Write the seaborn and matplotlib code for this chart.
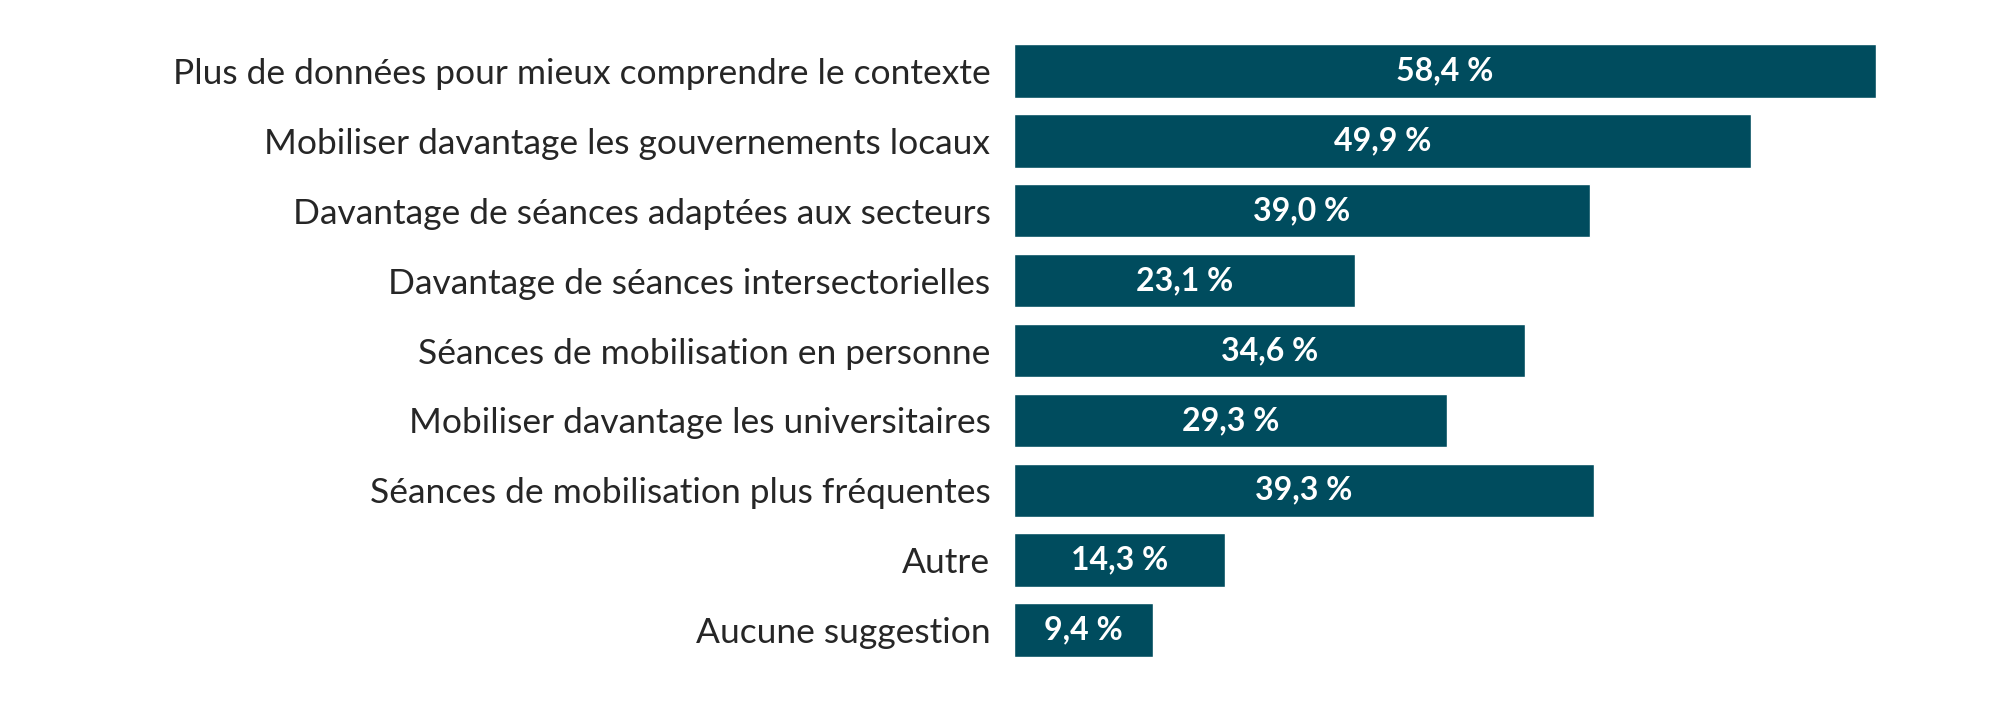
import matplotlib
matplotlib.use("Agg")
import matplotlib.pyplot as plt
import seaborn as sns
import pandas as pd

categories = [
    "Plus de données pour mieux comprendre le contexte",
    "Mobiliser davantage les gouvernements locaux",
    "Davantage de séances adaptées aux secteurs",
    "Davantage de séances intersectorielles",
    "Séances de mobilisation en personne",
    "Mobiliser davantage les universitaires",
    "Séances de mobilisation plus fréquentes",
    "Autre",
    "Aucune suggestion",
]
values = [58.4, 49.9, 39.0, 23.1, 34.6, 29.3, 39.3, 14.3, 9.4]
value_labels = ["58,4 %", "49,9 %", "39,0 %", "23,1 %", "34,6 %", "29,3 %", "39,3 %", "14,3 %", "9,4 %"]

df = pd.DataFrame({"categorie": categories, "valeur": values})

sns.set_style("white")
plt.rcParams["font.family"] = ["Lato", "DejaVu Sans"]

fig = plt.figure(figsize=(20, 7.01), dpi=100)
ax = fig.add_axes([0.507, 0.063, 0.443, 0.874])

bar_w = 0.765
sns.barplot(data=df, y="categorie", x="valeur", color="#004C5E", width=bar_w,
            saturation=1, ax=ax)

for i, (v, lab) in enumerate(zip(values, value_labels)):
    ax.text(v / 2, i, lab, ha="center", va="center", color="white",
            fontsize=23, fontweight="bold")

ax.set_xlim(0, 60)
ax.set_ylim(len(categories) - 1 + bar_w / 2, -bar_w / 2)
ax.set_xlabel("")
ax.set_ylabel("")
ax.set_xticks([])
ax.tick_params(axis="y", length=0, pad=17, labelsize=25.5)
for s in ax.spines.values():
    s.set_visible(False)

plt.savefig("out.png", dpi=100)
plt.close()
